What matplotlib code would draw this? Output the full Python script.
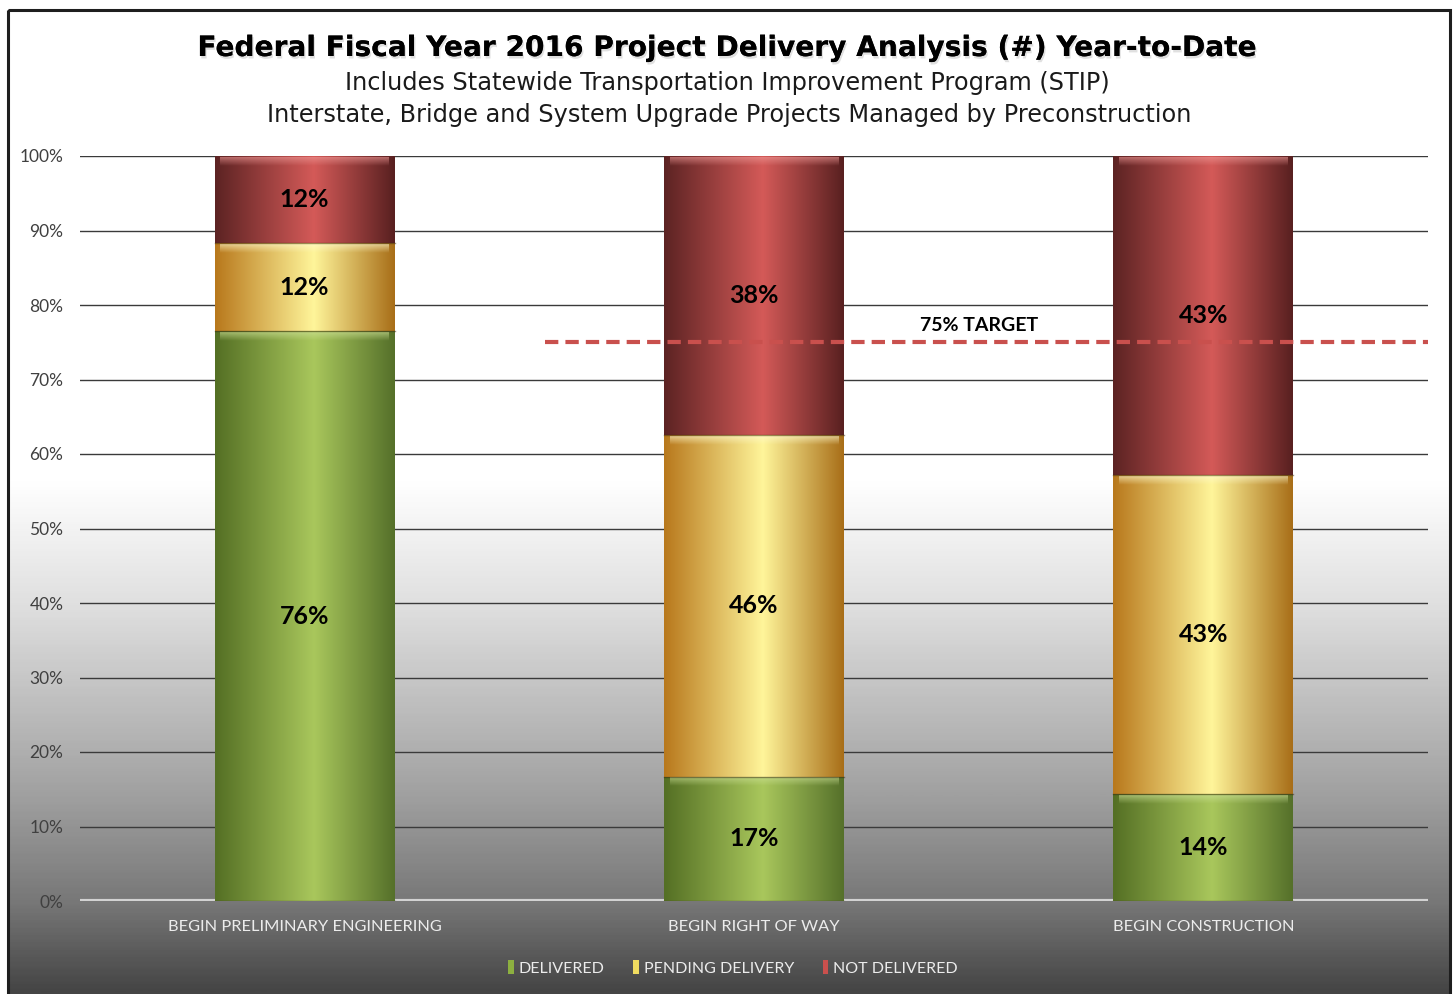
import numpy as np
import matplotlib
matplotlib.use('Agg')
import matplotlib.pyplot as plt
import matplotlib.patheffects as pe
from matplotlib.colors import LinearSegmentedColormap
from matplotlib.patches import Rectangle, Patch

# ---- data ----
categories = ['BEGIN PRELIMINARY ENGINEERING', 'BEGIN RIGHT OF WAY', 'BEGIN CONSTRUCTION']
series_names = ['DELIVERED', 'PENDING DELIVERY', 'NOT DELIVERED']
delivered = [76.5, 16.7, 14.3]
pending = [11.8, 45.8, 42.9]
not_delivered = [11.7, 37.5, 42.8]
target = 75
target_label = '75% TARGET'
yticks = [0, 10, 20, 30, 40, 50, 60, 70, 80, 90, 100]
ytick_labels = [f'{v}%' for v in yticks]
title = 'Federal Fiscal Year 2016 Project Delivery Analysis (#) Year-to-Date'
subtitle1 = 'Includes Statewide Transportation Improvement Program (STIP)'
subtitle2 = 'Interstate, Bridge and System Upgrade Projects Managed by Preconstruction'

FW, FH = 1455, 994
fig = plt.figure(figsize=(FW / 100, FH / 100), dpi=100)
fig.patch.set_facecolor('white')

# ---- background gradient ----
bg = fig.add_axes([0, 0, 1, 1], zorder=0)
bg.set_axis_off()
bg.set_xlim(0, FW)
bg.set_ylim(FH, 0)
bg_cmap = LinearSegmentedColormap.from_list('bg', [
    (0.0, '#ffffff'), (0.48, '#ffffff'), (0.61, '#dedede'), (0.80, '#a0a0a0'),
    (0.91, '#777777'), (1.0, '#454545')])
grad = np.linspace(0, 1, 400).reshape(-1, 1)
bg.imshow(grad, cmap=bg_cmap, extent=(8, 1450, FH, 10), aspect='auto', zorder=0)
bg.add_patch(Rectangle((8, 10), 1442, FH + 20, fill=False, ec='#1e1e1e', lw=2.2, zorder=2))

# ---- main axes ----
left, right, top, bottom = 80, 1428, 156, 901
ax = fig.add_axes([left / FW, (FH - bottom) / FH, (right - left) / FW, (bottom - top) / FH], zorder=1)
ax.patch.set_alpha(0)
for s in ax.spines.values():
    s.set_visible(False)

for v in yticks[1:]:
    ax.axhline(v, color='#3a3a3a', lw=1.0, zorder=1)
ax.axhline(0, color='#d2d2d2', lw=3.0, zorder=1)

def grad_cmap(name, edge_l, mid, edge_r):
    return LinearSegmentedColormap.from_list(name, [(0, edge_l), (0.55, mid), (1, edge_r)])

cmaps = [
    grad_cmap('g', '#546f24', '#a9c75c', '#55702a'),
    grad_cmap('y', '#b8781c', '#fff59a', '#a86e18'),
    grad_cmap('r', '#5c2323', '#d45a58', '#582020'),
]
tops = ['#d0e49a', '#fffbd0', '#f09a98']

x = np.arange(len(categories))
width = 0.4
hgrad = np.linspace(0, 1, 256).reshape(1, -1)
vfade = np.linspace(0.6, 0, 32).reshape(-1, 1)
bottoms = np.zeros(len(categories))
for vals, cm, tc in zip([delivered, pending, not_delivered], cmaps, tops):
    bars = ax.bar(x, vals, width, bottom=bottoms, color='none', edgecolor='none', zorder=2)
    for xi, b, v, rect in zip(x, bottoms, vals, bars):
        im = ax.imshow(hgrad, cmap=cm, extent=(xi - width / 2, xi + width / 2, b, b + v),
                       aspect='auto', zorder=2)
        im.set_clip_path(rect)
        # top bevel highlight (fading downward)
        hl = np.zeros((32, 1, 4))
        rgb = matplotlib.colors.to_rgb(tc)
        hl[..., 0], hl[..., 1], hl[..., 2] = rgb
        hl[..., 3] = vfade
        ax.imshow(hl, extent=(xi - width / 2 + 0.012, xi + width / 2 - 0.012, b + v - 1.3, b + v - 0.15),
                  aspect='auto', zorder=3, origin='upper')
        ax.plot([xi - width / 2, xi + width / 2], [b, b], color='#3a2a10', lw=1.0,
                alpha=0.5, zorder=3)
        ax.text(xi, b + v / 2, f'{round(v)}%', ha='center', va='center',
                fontsize=18, fontweight='bold', family='Lato', color='black', zorder=5)
    bottoms = bottoms + np.array(vals)

# target line
ax.plot([0.535, 2.5], [target, target], color='#c9504d', lw=3, dashes=(3.2, 1.7), zorder=4)
ax.text(1.5, target + 2.2, target_label, ha='center', va='center', fontsize=14,
        fontweight='bold', family='Lato', color='black', zorder=5)

ax.set_xlim(-0.5, 2.5)
ax.set_ylim(0, 100)
ax.set_yticks(yticks)
ax.set_yticklabels(ytick_labels, family='Lato', fontsize=12.5, color='#404040')
ax.set_xticks(x)
ax.set_xticklabels(categories, family='Lato', fontsize=11.8, color='#ececec')
ax.tick_params(axis='y', length=0, pad=12)
ax.tick_params(axis='x', length=0, pad=14)

# legend
handles = [Patch(facecolor=c, edgecolor='none') for c in ['#8db040', '#f0dc60', '#c9504d']]
leg = fig.legend(handles, series_names, loc='center', bbox_to_anchor=(733 / FW, 1 - 968 / FH),
                 ncol=3, frameon=False, handlelength=0.35, handleheight=0.9,
                 handletextpad=0.3, columnspacing=1.8, prop={'family': 'Lato', 'size': 11.5})
for t in leg.get_texts():
    t.set_color('#ececec')

# titles
shadow = [pe.withSimplePatchShadow(offset=(1, -1.8), shadow_rgbFace='#9a9a9a', alpha=0.3), pe.Normal()]
fig.text(727 / FW, 1 - 48 / FH, title, ha='center', va='center', fontsize=20.2,
         fontweight='bold', family='DejaVu Sans', color='black', path_effects=shadow)
fig.text(727 / FW, 1 - 83 / FH, subtitle1, ha='center', va='center', fontsize=17.3,
         family='DejaVu Sans', color='#1a1a1a')
fig.text(729 / FW, 1 - 115 / FH, subtitle2, ha='center', va='center', fontsize=17.3,
         family='DejaVu Sans', color='#1a1a1a')

fig.savefig('out.png', dpi=100)
